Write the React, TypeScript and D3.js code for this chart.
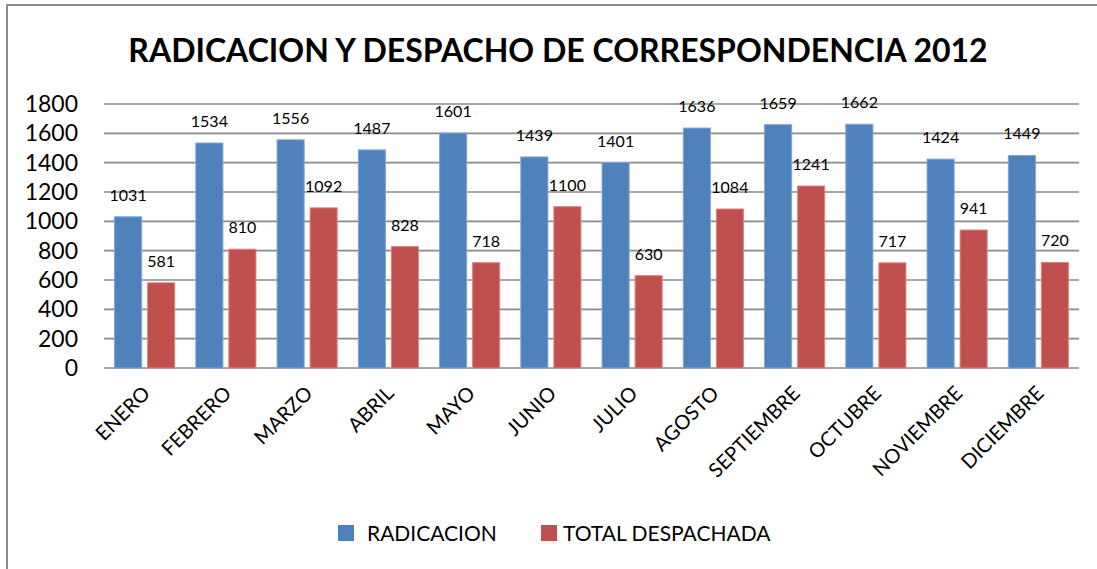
import React from 'react';
import * as d3 from 'd3';

const months = ['ENERO', 'FEBRERO', 'MARZO', 'ABRIL', 'MAYO', 'JUNIO', 'JULIO', 'AGOSTO', 'SEPTIEMBRE', 'OCTUBRE', 'NOVIEMBRE', 'DICIEMBRE'];
const radicacion = [1031, 1534, 1556, 1487, 1601, 1439, 1401, 1636, 1659, 1662, 1424, 1449];
const despachada = [581, 810, 1092, 828, 718, 1100, 630, 1084, 1241, 717, 941, 720];
const seriesNames = ['RADICACION', 'TOTAL DESPACHADA'];
const seriesColors = ['#4F81BD', '#C0504D'];
const seriesStroke = ['#7fa6d6', '#d98785'];
const yTicks = [0, 200, 400, 600, 800, 1000, 1200, 1400, 1600, 1800];

const W = 1097;
const H = 569;
const font = 'Lato, Calibri, "Open Sans", sans-serif';

export default function App() {
  const plot = { left: 104, right: 1079, top: 104, bottom: 368 };

  const x = d3.scaleBand<string>().domain(months).range([plot.left, plot.right]);
  const xs = d3
    .scaleBand<string>()
    .domain(seriesNames)
    .range([0, x.bandwidth()])
    .paddingInner(0.18)
    .paddingOuter(0.32);
  const y = d3.scaleLinear().domain([0, 1800]).range([plot.bottom, plot.top]);

  const values = [radicacion, despachada];

  return (
    <svg width={W} height={H} style={{ position: 'absolute', left: 0, top: 0, background: '#fff' }}>
      {/* chart border */}
      <rect x={7} y={5} width={W + 20} height={H + 20} fill="#fff" stroke="#8c8c8c" strokeWidth={2} />

      <text x={558} y={62} textAnchor="middle" fontFamily={font} fontWeight="bold" fontSize={32} fill="#000">
        RADICACION Y DESPACHO DE CORRESPONDENCIA 2012
      </text>

      {/* grid + y axis */}
      {yTicks.map((t) => (
        <g key={t}>
          <line x1={plot.left} x2={plot.right} y1={y(t)} y2={y(t)} stroke="#8a8a8a" strokeWidth={1.6} />
          <text x={78} y={y(t) + 8} textAnchor="end" fontFamily={font} fontSize={23} fill="#000">
            {t}
          </text>
        </g>
      ))}

      {/* bars */}
      {seriesNames.map((s, si) =>
        months.map((m, i) => {
          const v = values[si][i];
          const bx = (x(m) ?? 0) + (xs(s) ?? 0);
          return (
            <g key={s + m}>
              <rect
                x={bx}
                y={y(v)}
                width={xs.bandwidth()}
                height={y(0) - y(v)}
                fill={seriesColors[si]}
                stroke={seriesStroke[si]}
                strokeWidth={1}
              />
              <text
                x={bx + xs.bandwidth() / 2}
                y={y(v) - 16}
                textAnchor="middle"
                fontFamily={font}
                fontSize={16}
                fill="#000"
              >
                {v}
              </text>
            </g>
          );
        })
      )}

      {/* x labels */}
      {months.map((m) => {
        const cx = (x(m) ?? 0) + x.bandwidth() / 2;
        return (
          <text
            key={m}
            transform={`translate(${cx - 4},${384}) rotate(-45)`}
            dy="0.75em"
            textAnchor="end"
            fontFamily={font}
            fontSize={20}
            fill="#000"
          >
            {m}
          </text>
        );
      })}

      {/* legend */}
      {seriesNames.map((s, si) => {
        const lx = [338, 541][si];
        return (
          <g key={s} transform={`translate(${lx},525)`}>
            <rect width={16} height={16} fill={seriesColors[si]} />
            <text x={si === 0 ? 29 : 22} y={16} fontFamily={font} fontSize={21} fill="#000">
              {s}
            </text>
          </g>
        );
      })}
    </svg>
  );
}
